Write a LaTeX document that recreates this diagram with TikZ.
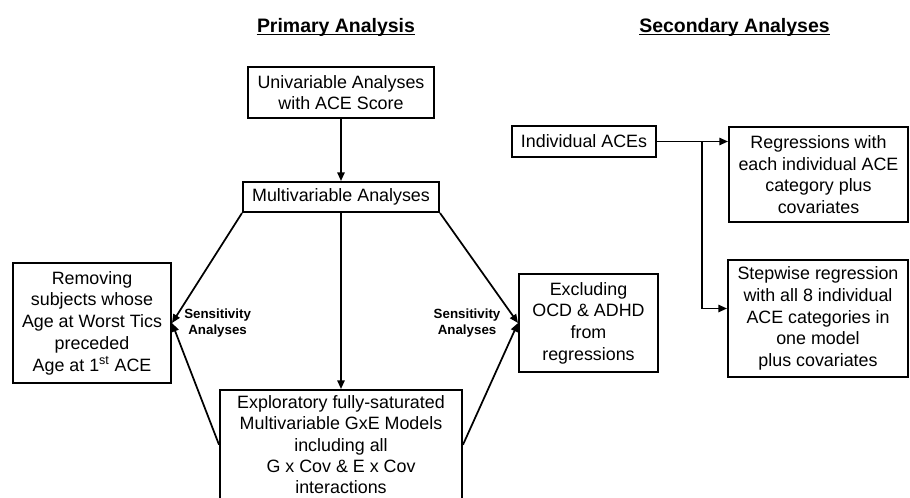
\documentclass[tikz,border=0pt]{standalone}
\usepackage{fontspec}
\setmainfont{Liberation Sans}
\usepackage{tikz}
\usetikzlibrary{arrows.meta, positioning}

\begin{document}
\begin{tikzpicture}[
    x=0.75pt, y=-0.75pt,
    font=\fontsize{13.4}{16.3}\selectfont,
    box/.style={rectangle, draw=black, line width=1.5pt, align=center,
                inner sep=2pt},
    head/.style={font=\fontsize{14.6}{17}\selectfont\bfseries, inner xsep=0pt},
    sens/.style={font=\fontsize{10}{12}\selectfont\bfseries, align=center,
                 inner sep=0pt},
    arr/.style={-{Triangle[length=6.5pt, width=5.5pt]}, line width=1.3pt},
    link/.style={line width=1.3pt}
  ]
  \useasboundingbox (0,0) rectangle (910,497);

  % headings
  \node[head, anchor=base] (ptitle) at (336,32) {Primary Analysis};
  \node[head, anchor=base west] (stitle) at (639,32) {Secondary Analyses};
  \foreach \t in {ptitle, stitle}
    \draw[line width=1.1pt] ([yshift=-2pt]\t.base west) -- ([yshift=-2pt]\t.base east);

  % primary analysis
  \node[box, minimum width=139.5pt, minimum height=38.25pt] (uni) at (341,92.5)
    {Univariable Analyses\\with ACE Score};
  \node[box, minimum width=147pt, minimum height=22.5pt, below=46.5pt of uni] (multi)
    {Multivariable Analyses};
  \node[box, minimum width=181.5pt, minimum height=82pt, below=132pt of multi,
        font=\fontsize{13.4}{15.8}\selectfont] (explo)
    {Exploratory fully-saturated\\Multivariable GxE Models\\including all\\G x Cov \& E x Cov\\interactions};
  \node[box, minimum width=118.5pt, minimum height=90pt] (remove) at (92,323)
    {Removing\\subjects whose\\Age at Worst Tics\\preceded\\Age at 1\textsuperscript{st} ACE};
  \node[box, minimum width=104.25pt, minimum height=73.5pt] (excl) at (588.5,323)
    {Excluding\\OCD \& ADHD\\from\\regressions};
  \node[sens, right=9pt of remove.east] (sensL) {Sensitivity\\Analyses};
  \node[sens, left=13pt of excl.west] (sensR) {Sensitivity\\Analyses};

  \foreach \a/\b in {uni/multi, multi/explo,
                     multi.south west/remove.east, explo.west/remove.east,
                     multi.south east/excl.west, explo.east/excl.west}
    \draw[arr] (\a) -- (\b);

  % secondary analyses
  \node[box, minimum width=108pt, minimum height=23.25pt] (indiv) at (584,141.5)
    {Individual ACEs};
  \node[box, minimum width=134.25pt, minimum height=71.25pt] (regr) at (818.5,174.5)
    {Regressions with\\each individual ACE\\category plus\\covariates};
  \node[box, minimum width=135pt, minimum height=87.75pt] (stepw) at (818,318.5)
    {Stepwise regression\\with all 8 individual\\ACE categories in\\one model\\plus covariates};

  \coordinate (fork) at (702,141.5);
  \draw[link] (indiv.east) -- (fork);
  \draw[arr] (fork) -- (fork -| regr.west);
  \draw[arr] (fork) |- ([shift={(0,-10)}]stepw.west);

\end{tikzpicture}
\end{document}
